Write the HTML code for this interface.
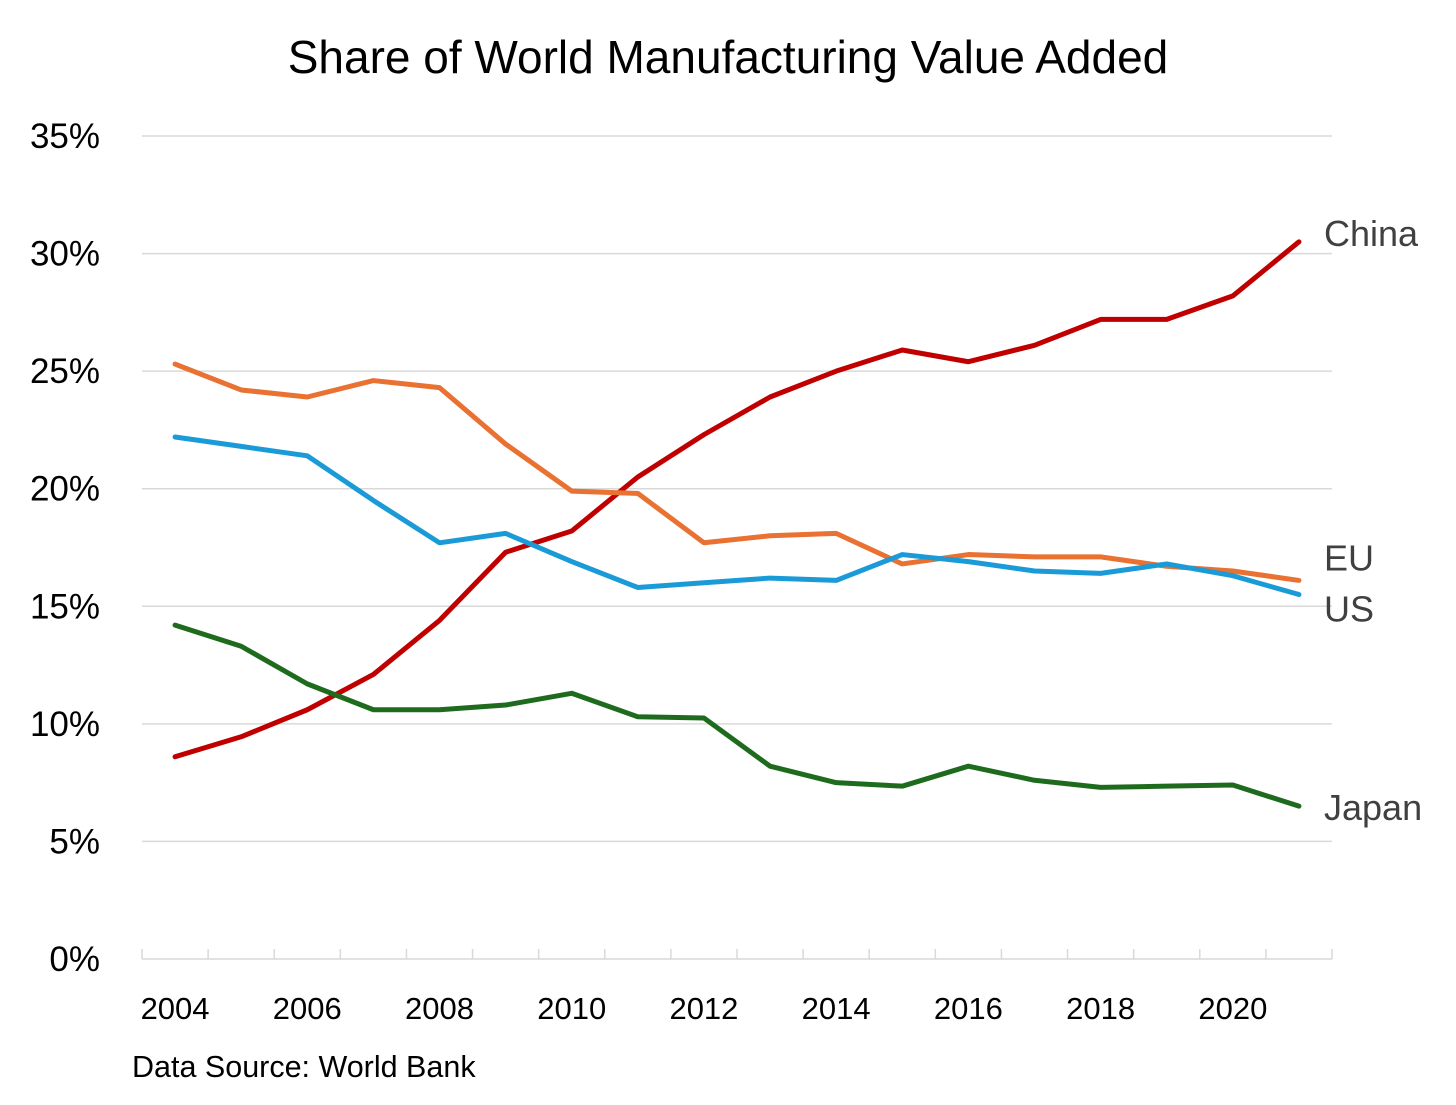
<!DOCTYPE html>
<html><head><meta charset="utf-8"><style>
html,body{margin:0;padding:0;background:#fff;}
svg{display:block;font-family:"Liberation Sans",sans-serif;}
</style></head><body>
<svg id="chart" width="1456" height="1105" viewBox="0 0 1456 1105">
<text x="728" y="73" text-anchor="middle" font-size="46" fill="#000">Share of World Manufacturing Value Added</text>
<g id="grid"></g><g id="axis"></g><g id="series"></g><g id="labels"></g>
<text x="132" y="1077" font-size="30.5" fill="#000">Data Source: World Bank</text>
</svg>
<script>
const years = [2004,2005,2006,2007,2008,2009,2010,2011,2012,2013,2014,2015,2016,2017,2018,2019,2020,2021];
const china = [8.6,9.45,10.6,12.1,14.4,17.3,18.2,20.5,22.3,23.9,25.0,25.9,25.4,26.1,27.2,27.2,28.2,30.5];
const eu = [25.3,24.2,23.9,24.6,24.3,21.9,19.9,19.8,17.7,18.0,18.1,16.8,17.2,17.1,17.1,16.7,16.5,16.1];
const us = [22.2,21.8,21.4,19.5,17.7,18.1,16.9,15.8,16.0,16.2,16.1,17.2,16.9,16.5,16.4,16.8,16.3,15.5];
const japan = [14.2,13.3,11.7,10.6,10.6,10.8,11.3,10.3,10.25,8.2,7.5,7.35,8.2,7.6,7.3,7.35,7.4,6.5];
const yTicks = [0,5,10,15,20,25,30,35];
const xLabelYears = [2004,2006,2008,2010,2012,2014,2016,2018,2020];

const NS='http://www.w3.org/2000/svg';
const x0=142, x1=1332, yBase=959, yTop=136;
const step=(x1-x0)/years.length;
const xs=i=>x0+step*(i+0.5);
const ys=v=>yBase-(v/35)*(yBase-yTop);
function mk(tag,attrs,parent){const e=document.createElementNS(NS,tag);for(const k in attrs)e.setAttribute(k,attrs[k]);parent.appendChild(e);return e;}
const grid=document.getElementById('grid'), axis=document.getElementById('axis'), series=document.getElementById('series'), labels=document.getElementById('labels');

yTicks.forEach(t=>{
  if(t>0){const l=mk('line',{x1:x0,x2:x1,y1:ys(t),y2:ys(t),stroke:'#d9d9d9','stroke-width':1.5},grid);
  
  }
  const tx=mk('text',{x:100,y:ys(t)+12,'text-anchor':'end','font-size':35,fill:'#000'},axis);
  tx.textContent=t+'%';
  
  
});
const ax=mk('line',{x1:x0,x2:x1,y1:yBase,y2:yBase,stroke:'#d9d9d9','stroke-width':1.5},axis);


for(let i=0;i<=years.length;i++){
  const tk=mk('line',{x1:x0+step*i,x2:x0+step*i,y1:yBase-10,y2:yBase,stroke:'#d9d9d9','stroke-width':1.5},axis);
  
  
}
xLabelYears.forEach(y=>{
  const i=years.indexOf(y);
  const tx=mk('text',{x:xs(i),y:1019,'text-anchor':'middle','font-size':31,fill:'#000'},axis);
  tx.textContent=y;
  
  
});
const defs=[['china',china,'#C00000','China',-8],['eu',eu,'#E97132','EU',-22],['us',us,'#1A9BD7','US',15],['japan',japan,'#1E6B1E','Japan',2]];
defs.forEach(([n,d,c,lab,dy])=>{
  const p=mk('path',{d:d.map((v,i)=>(i?'L':'M')+xs(i)+' '+ys(v)).join(' '),fill:'none',stroke:c,'stroke-width':5,'stroke-linejoin':'round','stroke-linecap':'round'},series);
  
  
  const t=mk('text',{x:1324,y:ys(d[d.length-1])+dy+12,'font-size':36,fill:'#404040'},labels);
  t.textContent=lab;
  
  
});
</script>
</body></html>
